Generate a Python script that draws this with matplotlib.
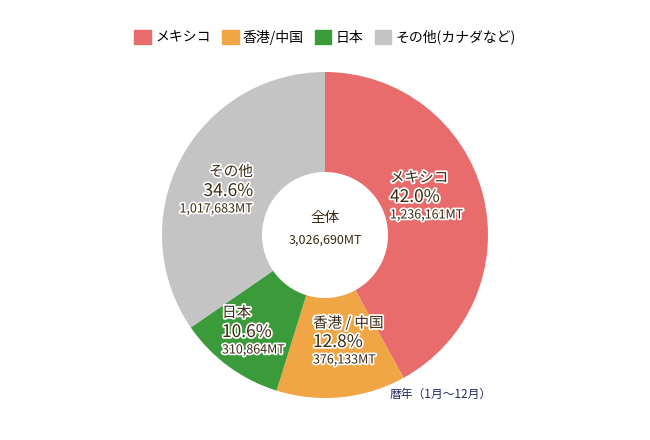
import matplotlib.pyplot as plt
import matplotlib.patheffects as pe
from matplotlib.patches import Patch

plt.rcParams['font.family'] = ['Noto Sans CJK JP', 'DejaVu Sans']

names = ['メキシコ', '香港/中国', '日本', 'その他(カナダなど)']
labels = ['メキシコ', '香港 / 中国', '日本', 'その他']
shares = [42.0, 12.8, 10.6, 34.6]
tonnes = ['1,236,161MT', '376,133MT', '310,864MT', '1,017,683MT']
colors = ['#e96c6c', '#f0a644', '#3b9a3a', '#c3c4c3']
total = '3,026,690MT'

fig = plt.figure(figsize=(6.5, 4.4), dpi=100)
ax = fig.add_axes([0, 0, 1, 1])
ax.set_xlim(0, 650)
ax.set_ylim(0, 440)
ax.set_aspect('equal')
ax.axis('off')

ax.pie(shares, colors=colors, startangle=90, counterclock=False,
       center=(325, 205), radius=163, frame=True,
       wedgeprops=dict(width=100, linewidth=0))
ax.set_xlim(0, 650)
ax.set_ylim(0, 440)
ax.axis('off')

tc = '#3d2b12'
fx = [pe.withStroke(linewidth=2.5, foreground='white')]

# (x, y of first line, ha) in pixel coords from top
pos = [(390, 178, 'left'), (313, 323, 'left'), (222, 313, 'left'), (253, 172, 'right')]
for (x, y, ha), lab, s, t in zip(pos, labels, shares, tonnes):
    ax.text(x, 440 - y, lab, fontsize=10.5, color=tc, ha=ha, va='center', path_effects=fx)
    ax.text(x, 440 - y - 19, f'{s:.1f}%', fontsize=12.5, color=tc, ha=ha, va='center', path_effects=fx)
    ax.text(x, 440 - y - 37, t, fontsize=9, color=tc, ha=ha, va='center', path_effects=fx)

ax.text(325, 440 - 218, '全体', fontsize=10.5, color=tc, ha='center', va='center')
ax.text(325, 440 - 240, total, fontsize=9, color=tc, ha='center', va='center')
ax.text(390, 440 - 394, '暦年（1月～12月）', fontsize=8.5, color='#1f2a5a', ha='left', va='center')

handles = [Patch(color=c, label=n) for c, n in zip(colors, names)]
fig.legend(handles=handles, loc='center', bbox_to_anchor=(0.5, 1 - 37 / 440), ncol=4,
           frameon=False, fontsize=10, handlelength=1.2, handleheight=1.2,
           handletextpad=0.3, columnspacing=0.8)

fig.savefig('out.png', dpi=100)
